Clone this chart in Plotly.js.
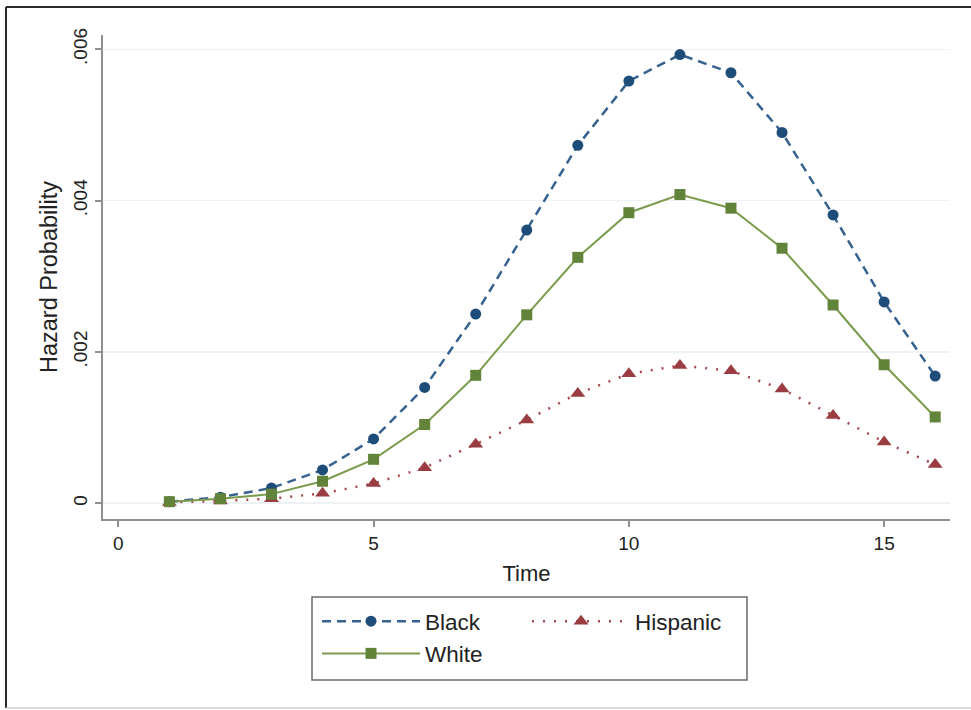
<!DOCTYPE html>
<html>
<head>
<meta charset="utf-8">
<script src="https://cdn.plot.ly/plotly-3.0.1.min.js"></script>
<style>
  html, body { margin: 0; padding: 0; background: #ffffff; }
  #chart { width: 971px; height: 710px; }
</style>
</head>
<body>
<div id="chart"></div>
<script>
// ---- data ----
const time = [1, 2, 3, 4, 5, 6, 7, 8, 9, 10, 11, 12, 13, 14, 15, 16];
const black = [0.00002, 0.00008, 0.00020, 0.00044, 0.00085, 0.00153, 0.00250, 0.00361, 0.00473, 0.00558, 0.00593, 0.00569, 0.00490, 0.00381, 0.00266, 0.00168];
const white = [0.00002, 0.00006, 0.00012, 0.00029, 0.00058, 0.00104, 0.00169, 0.00249, 0.00325, 0.00384, 0.00408, 0.00390, 0.00337, 0.00262, 0.00183, 0.00114];
const hispanic = [0.00001, 0.00003, 0.00006, 0.00013, 0.00026, 0.00047, 0.00078, 0.00110, 0.00145, 0.00171, 0.00182, 0.00175, 0.00151, 0.00116, 0.00081, 0.00051];
const yTickVals = [0, 0.002, 0.004, 0.006];
const yTickText = ['0', '.002', '.004', '.006'];
const xTickVals = [0, 5, 10, 15];
const xTickText = ['0', '5', '10', '15'];
const seriesNames = ['Black', 'Hispanic', 'White'];

const FONT = 'Liberation Sans, Arial, sans-serif';

const traces = [
  {
    x: time, y: black, name: seriesNames[0], type: 'scatter', mode: 'lines+markers',
    line: { color: '#36628f', width: 2.5, dash: '9px,6px' },
    marker: { symbol: 'circle', size: 11, color: '#1f4d7a' },
    legend: 'legend'
  },
  {
    x: time, y: hispanic, name: seriesNames[1], type: 'scatter', mode: 'lines+markers',
    line: { color: '#a8474d', width: 2.5, dash: '2px,9px' },
    marker: { symbol: 'triangle-up', size: 13, color: '#9a3c42' },
    legend: 'legend2'
  },
  {
    x: time, y: white, name: seriesNames[2], type: 'scatter', mode: 'lines+markers',
    line: { color: '#7b9b4c', width: 2 },
    marker: { symbol: 'square', size: 11, color: '#62833a' },
    legend: 'legend'
  }
];

// plot area geometry (px) used to place decorations in paper coordinates
const L = 103, R = 21, T = 35, B = 191, W = 971 - L - R, H = 710 - T - B;
const px = v => (v - L) / W;
const py = v => (710 - B - v) / H;

const layout = {
  width: 971, height: 710,
  margin: { l: L, r: R, t: T, b: B },
  paper_bgcolor: '#ffffff', plot_bgcolor: '#ffffff',
  font: { family: FONT, color: '#222222', size: 19 },
  showlegend: true,
  xaxis: {
    range: [-0.30, 16.29],
    tickvals: xTickVals, ticktext: xTickText,
    showgrid: false, zeroline: false,
    showline: true, linecolor: '#8f8f8f', linewidth: 2,
    ticks: 'outside', ticklen: 6, tickwidth: 2, tickcolor: '#8f8f8f',
    tickfont: { family: FONT, size: 19, color: '#222' },
    title: { text: 'Time', font: { family: FONT, size: 22, color: '#222' }, standoff: 13 }
  },
  yaxis: {
    range: [-0.000209, 0.006189],
    tickvals: yTickVals, ticktext: yTickText,
    tickangle: -90,
    showgrid: true, gridcolor: '#edf2f4', gridwidth: 1.5,
    zeroline: false,
    showline: true, linecolor: '#8f8f8f', linewidth: 2,
    ticks: 'outside', ticklen: 6, tickwidth: 2, tickcolor: '#8f8f8f',
    tickfont: { family: FONT, size: 19, color: '#222' },
    title: { text: 'Hazard Probability', font: { family: FONT, size: 23.5, color: '#222' }, standoff: 6 }
  },
  legend: {
    x: px(317), y: py(600), xanchor: 'left', yanchor: 'top',
    orientation: 'v', bgcolor: 'rgba(0,0,0,0)', borderwidth: 0,
    font: { family: FONT, size: 22.5, color: '#222' },
    itemwidth: 98, tracegroupgap: 0
  },
  legend2: {
    x: px(527), y: py(600), xanchor: 'left', yanchor: 'top',
    orientation: 'v', bgcolor: 'rgba(0,0,0,0)', borderwidth: 0,
    font: { family: FONT, size: 22.5, color: '#222' },
    itemwidth: 98
  },
  shapes: [
    // legend frame
    { type: 'rect', xref: 'paper', yref: 'paper', x0: px(312), x1: px(747), y0: py(680), y1: py(597),
      line: { color: '#6a6a6a', width: 1.5 }, fillcolor: 'rgba(0,0,0,0)' },
    // outer frame (top, left dark; bottom light)
    { type: 'line', xref: 'paper', yref: 'paper', x0: px(6), x1: px(971), y0: py(7), y1: py(7),
      line: { color: '#2b2b2b', width: 2 } },
    { type: 'line', xref: 'paper', yref: 'paper', x0: px(6), x1: px(6), y0: py(7), y1: py(708),
      line: { color: '#2b2b2b', width: 2 } },
    { type: 'line', xref: 'paper', yref: 'paper', x0: px(6), x1: px(971), y0: py(708), y1: py(708),
      line: { color: '#cfcfcf', width: 1.5 } }
  ]
};

Plotly.newPlot('chart', traces, layout, { displayModeBar: false, staticPlot: true });
</script>
</body>
</html>
